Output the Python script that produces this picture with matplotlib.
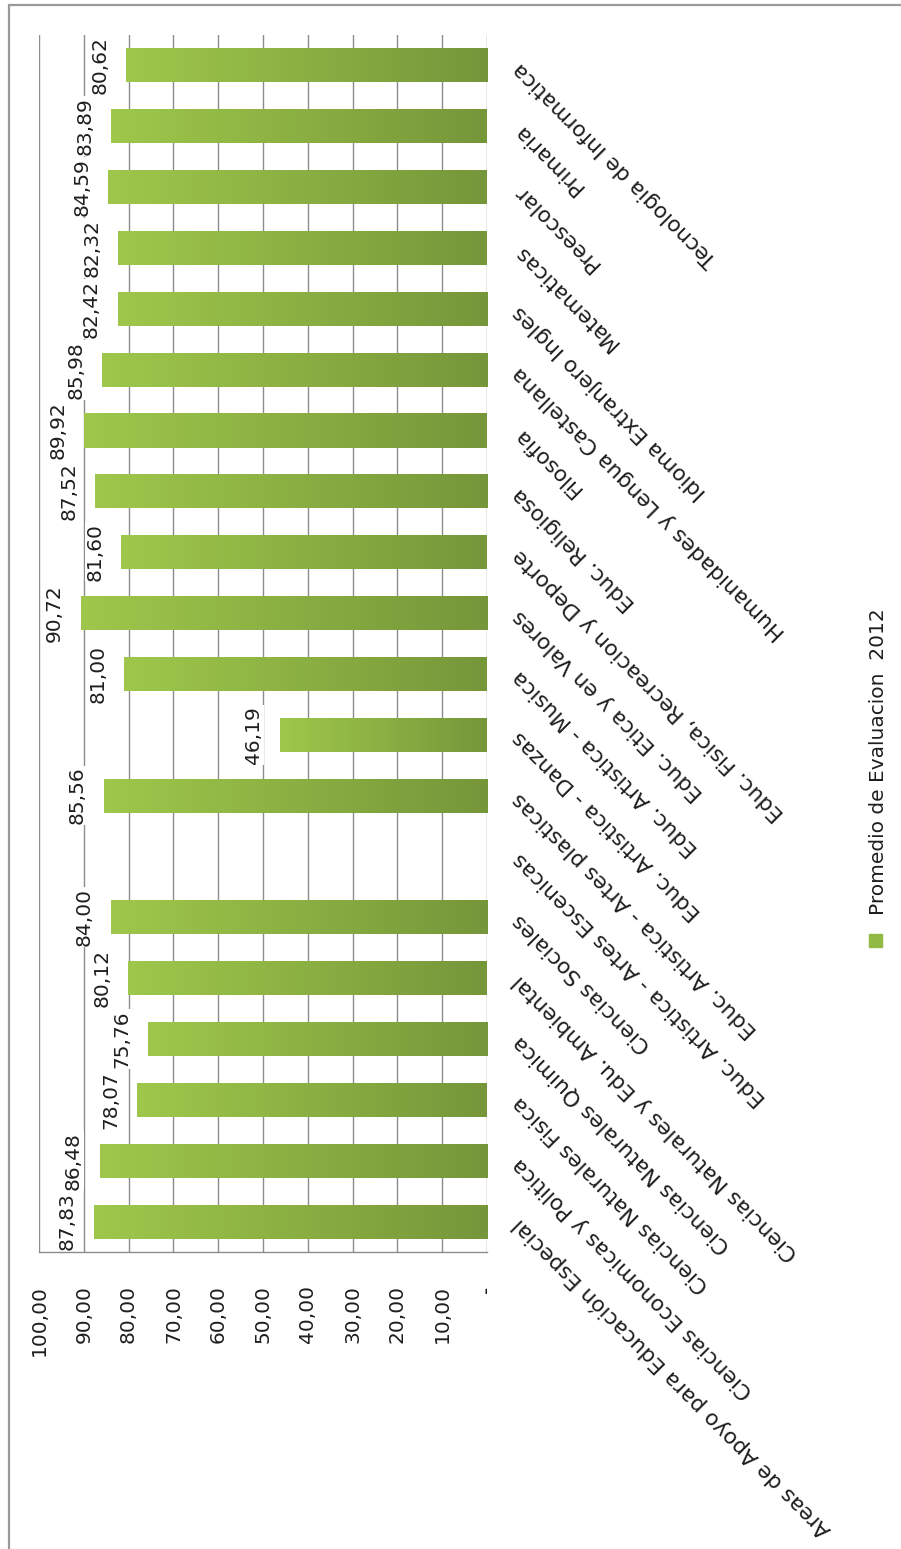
import matplotlib
matplotlib.use('Agg')
import matplotlib.pyplot as plt
import numpy as np
from matplotlib.patches import Rectangle
from matplotlib.colors import LinearSegmentedColormap

# ---------------- data ----------------
categories = [
    'Areas de Apoyo para Educación Especial',
    'Ciencias Economicas y Politica',
    'Ciencias Naturales Fisica',
    'Ciencias Naturales Quimica',
    'Ciencias Naturales y Edu. Ambiental',
    'Ciencias Sociales',
    'Educ. Artistica - Artes Escenicas',
    'Educ. Artistica - Artes plasticas',
    'Educ. Artistica - Danzas',
    'Educ. Artistica - Musica',
    'Educ. Etica y en Valores',
    'Educ. Fisica, Recreacion y Deporte',
    'Educ. Religiosa',
    'Filosofia',
    'Humanidades y Lengua Castellana',
    'Idioma Extranjero Ingles',
    'Matematicas',
    'Preescolar',
    'Primaria',
    'Tecnologia de Informatica',
]
values = [87.83, 86.48, 78.07, 75.76, 80.12, 84.00, None, 85.56, 46.19, 81.00,
          90.72, 81.60, 87.52, 89.92, 85.98, 82.42, 82.32, 84.59, 83.89, 80.62]
value_labels = ['87,83', '86,48', '78,07', '75,76', '80,12', '84,00', '', '85,56',
                '46,19', '81,00', '90,72', '81,60', '87,52', '89,92', '85,98',
                '82,42', '82,32', '84,59', '83,89', '80,62']
x_ticks = [0, 10, 20, 30, 40, 50, 60, 70, 80, 90, 100]
x_tick_labels = ['-', '10,00', '20,00', '30,00', '40,00', '50,00', '60,00',
                 '70,00', '80,00', '90,00', '100,00']
legend_label = 'Promedio de Evaluacion  2012'

# ---------------- style ----------------
plt.rcParams['font.family'] = ['DejaVu Sans']
FS = 14.5
FS_CAT = 15.6
TXT = '#1e1e1e'
GRID = '#8c8c8c'
grad_colors = ['#9fc74b', '#8db243', '#76963a']
legend_color = '#92b944'

W, H = 901, 1549
fig = plt.figure(figsize=(W / 100, H / 100), dpi=100)
ax = fig.add_axes([39 / W, (H - 1252) / H, (487 - 39) / W, (1252 - 35) / H])

ypos = np.arange(len(categories))
bh = 0.56
cmap = LinearSegmentedColormap.from_list('g', list(zip([0, 0.45, 1], grad_colors)))
grad = np.linspace(0, 1, 256).reshape(1, -1)

for yi, v, lbl in zip(ypos, values, value_labels):
    if v is None:
        continue
    bar = ax.barh(yi, v, height=bh, color=grad_colors[1], zorder=2, linewidth=0)[0]
    im = ax.imshow(grad, cmap=cmap, extent=(v, 0, yi - bh / 2, yi + bh / 2),
                   aspect='auto', interpolation='bilinear', zorder=2.5)
    im.set_clip_path(bar)
    ax.annotate(lbl, xy=(v, yi), xytext=(-12, 0), textcoords='offset points',
                rotation=90, ha='right', va='center', fontsize=FS, color=TXT,
                bbox=dict(boxstyle='square,pad=0.05', fc='white', ec='none'),
                zorder=4)

ax.set_xlim(100, 0)
ax.set_ylim(-0.5, len(categories) - 0.5)

ax.grid(axis='x', color=GRID, lw=1.0, zorder=0)
ax.grid(axis='y', visible=False)
ax.set_axisbelow(True)
for s in ['left', 'top', 'right']:
    ax.spines[s].set_visible(False)
ax.spines['bottom'].set_color(GRID)
ax.spines['bottom'].set_linewidth(1.0)

ax.set_xticks(x_ticks)
ax.set_xticklabels(x_tick_labels, rotation=90, rotation_mode='anchor',
                   ha='right', va='center', fontsize=FS, color=TXT)
ax.tick_params(axis='x', length=0, pad=24)

ax.yaxis.tick_right()
ax.set_yticks(ypos)
ax.set_yticklabels(categories, fontsize=FS_CAT, color=TXT)
for t in ax.get_yticklabels():
    t.set_rotation(135)
    t.set_rotation_mode('anchor')
    t.set_ha('right')
    t.set_va('center')
ax.tick_params(axis='y', length=0, pad=21)

# legend (rotated)
fig.patches.append(Rectangle((869 / W, 1 - 947 / H), 13 / W, 13 / H,
                             transform=fig.transFigure, color=legend_color))
fig.text(879 / W, 1 - 915 / H, legend_label, rotation=90, rotation_mode='anchor',
         ha='left', va='center', fontsize=FS, color=TXT)

# outer chart border
fig.patches.append(Rectangle((9 / W, -0.02), 1.2, 1.02 - 5 / H,
                             transform=fig.transFigure, fill=False,
                             edgecolor='#9a9a9a', lw=1.6))

fig.savefig('out.png', dpi=100)
